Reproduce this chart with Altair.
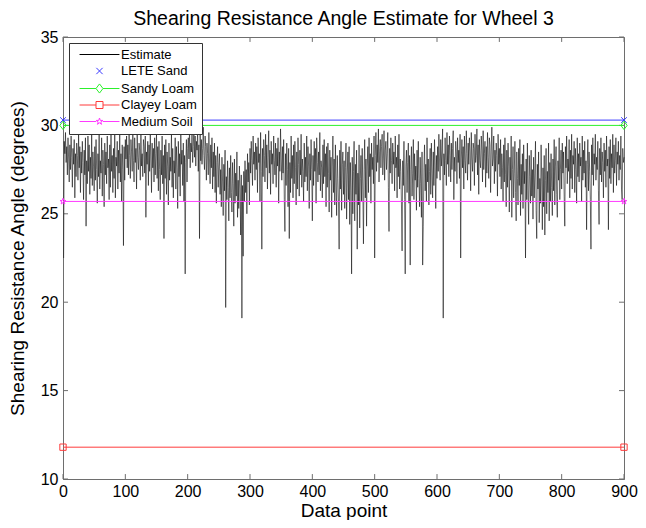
import altair as alt
import pandas as pd

FONT = "Liberation Sans"

# ---------------- data ----------------
series_names = ["Estimate", "LETE Sand", "Sandy Loam", "Clayey Loam", "Medium Soil"]
series_colors = ["#000000", "#3a3aff", "#2cf02c", "#ff3a3a", "#ff3aff"]
reference_names = ["LETE Sand", "Sandy Loam", "Clayey Loam", "Medium Soil"]
reference_values = [30.3, 30.0, 11.8, 25.7]
reference_x = [0, 900]
x_ticks = [0, 100, 200, 300, 400, 500, 600, 700, 800, 900]
y_ticks = [10, 15, 20, 25, 30, 35]

estimate = [
    22.5, 29.1, 28.4, 29.6, 27.9, 28.8, 27.2, 29.3, 28.1, 26.8, 28.9, 27.5, 29.4, 28.2, 26.5, 28.7, 27.8, 29.2, 25.9, 28.4,
    27.1, 29.0, 28.3, 26.9, 29.5, 27.6, 28.8, 26.2, 28.5, 27.3, 29.1, 27.9, 25.8, 28.6, 27.2, 29.3, 24.3, 28.0, 26.7, 29.4,
    27.4, 28.9, 26.1, 28.2, 27.0, 29.6, 26.6, 28.5, 27.7, 26.3,
    28.8, 26.9, 29.2, 27.5, 25.6, 28.4, 27.1, 29.7, 26.4, 28.0, 27.3, 29.3, 26.0, 28.6, 27.8, 25.4, 29.0, 27.2, 28.5, 26.7,
    29.4, 27.6, 28.1, 25.8, 28.9, 26.5, 29.8, 27.4, 28.3, 26.2, 28.7, 27.0, 29.5, 25.9, 28.2, 27.7, 29.1, 26.4, 28.6, 27.3,
    29.6, 26.8, 28.4, 25.7, 28.9, 27.5, 23.2, 28.8, 26.9, 29.2,
    28.1, 29.4, 27.6, 28.9, 27.2, 29.7, 28.3, 27.0, 29.2, 28.5, 27.4, 29.8, 28.0, 26.8, 29.3, 27.9, 28.7, 26.4, 29.5, 28.2,
    27.5, 29.0, 28.6, 26.9, 29.6, 27.7, 28.4, 27.1, 29.2, 28.8, 27.3, 29.4, 24.8, 28.5, 27.8, 29.1, 26.6, 28.9, 27.4, 29.7,
    28.1, 26.2, 29.0, 27.6, 28.7, 26.8, 29.3, 27.2, 28.4, 29.5,
    27.0, 28.8, 26.3, 29.1, 27.5, 25.8, 28.6, 27.2, 29.4, 26.7, 28.3, 23.6, 28.9, 27.0, 29.2, 26.1, 28.5, 27.7, 25.5, 29.0,
    26.9, 28.2, 27.4, 29.6, 26.5, 28.7, 25.9, 28.0, 27.3, 29.3, 26.4, 28.8, 27.6, 25.3, 29.1, 27.1, 28.4, 26.0, 29.5, 27.8,
    28.6, 26.6, 29.0, 25.7, 28.3, 21.6, 27.9, 29.2, 26.8, 28.7,
    29.3, 28.1, 29.8, 27.6, 29.0, 28.5, 29.6, 27.9, 28.8, 29.9, 28.2, 29.4, 27.7, 29.1, 28.6, 29.7, 27.4, 28.9, 23.6, 29.5,
    28.0, 29.2, 27.8, 28.7, 29.9, 28.3, 27.5, 29.4, 28.8, 26.9, 29.0, 28.4, 27.2, 29.6, 28.1, 26.7, 28.9, 27.6, 29.3, 26.4,
    28.5, 27.1, 29.0, 26.2, 28.3, 25.6, 27.9, 28.8, 26.5, 27.7,
    28.4, 26.1, 27.5, 25.4, 28.2, 26.8, 24.9, 27.8, 26.3, 28.6, 19.7, 27.1, 25.8, 28.0, 26.5, 24.6, 27.6, 25.9, 28.3, 26.2,
    25.1, 27.9, 26.7, 24.3, 28.1, 25.6, 27.3, 26.0, 28.5, 24.8, 26.9, 25.3, 27.7, 26.4, 23.8, 27.2, 19.1, 26.6, 22.6, 27.4,
    25.7, 28.0, 26.2, 27.5, 25.0, 28.4, 26.8, 27.9, 25.5, 28.7,
    27.3, 29.1, 28.0, 26.6, 29.4, 27.8, 28.5, 26.9, 29.0, 27.5, 28.8, 26.2, 29.3, 27.9, 28.4, 25.7, 29.6, 27.4, 23.0, 28.7,
    27.1, 29.2, 28.3, 26.8, 29.5, 27.6, 28.9, 26.4, 28.2, 29.7, 27.3, 28.6, 26.1, 29.1, 27.8, 28.4, 26.7, 29.4, 28.0, 27.2,
    29.0, 26.5, 28.7, 27.7, 29.3, 25.6, 28.5, 27.4, 29.8, 28.1,
    26.9, 28.8, 27.3, 29.2, 25.8, 24.0, 28.4, 26.6, 29.0, 27.5, 25.4, 28.7, 23.6, 27.9, 26.2, 29.4, 27.0, 28.3, 25.9, 28.9,
    26.7, 29.1, 27.6, 25.5, 28.5, 26.4, 29.3, 27.8, 26.0, 28.6, 27.2, 29.5, 26.5, 28.1, 27.4, 25.7, 29.0, 26.8, 28.2, 27.1,
    29.4, 26.3, 28.8, 27.7, 25.3, 28.4, 26.9, 29.2, 27.5, 24.6,
    28.3, 26.6, 29.1, 27.4, 28.7, 25.6, 29.3, 27.9, 26.8, 28.5, 27.2, 29.6, 26.3, 28.0, 27.6, 25.9, 28.9, 26.7, 29.2, 27.1,
    28.4, 25.4, 28.8, 26.5, 29.0, 27.3, 25.1, 28.6, 26.9, 28.2, 24.8, 27.7, 29.4, 26.2, 28.1, 25.5, 28.9, 26.8, 24.9, 28.3,
    27.0, 25.7, 23.0, 28.6, 26.4, 29.1, 25.2, 27.8, 28.5, 26.1,
    28.0, 25.3, 27.6, 29.0, 24.7, 27.2, 28.5, 25.8, 28.8, 24.4, 27.9, 26.3, 21.6, 28.2, 25.0, 27.4, 29.1, 24.6, 27.8, 26.1,
    28.6, 23.0, 27.3, 25.5, 28.9, 24.2, 27.0, 28.3, 25.7, 28.7, 26.4, 23.3, 27.5, 29.2, 25.9, 28.1, 24.3, 27.7, 28.8, 26.2,
    29.3, 27.1, 28.4, 25.6, 29.0, 27.5, 28.2, 26.7, 29.4, 22.5,
    28.3, 29.6, 27.4, 28.9, 27.9, 29.8, 26.8, 28.5, 29.2, 27.6, 28.8, 29.5, 27.2, 28.1, 29.7, 26.9, 28.6, 29.1, 27.5, 28.4,
    29.6, 26.5, 24.0, 28.7, 27.3, 29.3, 28.0, 26.7, 29.0, 27.8, 28.5, 26.3, 29.4, 27.6, 28.2, 25.9, 28.9, 27.1, 29.5, 26.4,
    28.1, 27.4, 25.5, 22.9, 28.0, 26.6, 29.1, 25.8, 21.6, 27.7,
    28.6, 26.2, 27.9, 29.0, 25.6, 28.3, 22.1, 27.5, 28.8, 26.0, 27.3, 29.2, 25.8, 28.4, 26.9, 27.7, 25.2, 28.6, 26.5, 29.1,
    27.0, 25.4, 28.2, 26.7, 24.8, 28.5, 22.1, 24.3, 27.6, 28.9, 26.3, 27.8, 25.7, 29.3, 26.8, 28.1, 25.5, 27.4, 28.7, 26.1,
    29.0, 27.3, 25.9, 28.5, 26.6, 29.2, 27.7, 25.3, 28.3, 27.0,
    28.8, 27.4, 29.5, 28.1, 26.9, 29.2, 27.7, 28.6, 29.8, 19.1, 28.4, 27.2, 29.3, 28.0, 26.6, 29.6, 27.8, 28.9, 27.1, 29.4,
    28.3, 26.8, 29.0, 27.5, 28.7, 29.7, 25.8, 28.2, 27.4, 29.1, 28.5, 26.7, 29.3, 27.9, 28.6, 27.0, 29.5, 22.5, 28.1, 29.2,
    27.6, 28.8, 26.4, 29.4, 28.0, 27.3, 29.7, 28.4, 26.9, 29.0,
    27.8, 29.3, 28.5, 26.3, 29.6, 28.1, 27.4, 29.0, 28.7, 26.6, 29.5, 27.9, 28.3, 29.8, 27.2, 28.9, 26.1, 29.2, 28.0, 27.6,
    29.4, 28.6, 26.8, 29.7, 27.5, 28.4, 29.1, 26.5, 28.8, 27.3, 29.6, 28.2, 27.0, 29.3, 28.9, 26.2, 28.5, 29.9, 27.7, 28.1,
    29.4, 26.7, 28.6, 27.4, 29.0, 28.3, 26.0, 29.5, 27.8, 28.7,
    27.1, 29.2, 26.4, 28.4, 27.6, 25.7, 28.9, 26.8, 29.3, 27.2, 25.4, 28.6, 26.5, 29.0, 27.7, 25.1, 28.2, 26.9, 29.4, 24.8,
    27.5, 28.8, 25.9, 27.3, 29.1, 26.2, 24.6, 28.5, 27.0, 25.5, 28.7, 26.6, 29.2, 24.9, 27.8, 26.1, 28.4, 25.3, 28.9, 26.7,
    27.4, 22.5, 28.1, 25.8, 29.0, 26.3, 24.4, 28.3, 27.1, 25.6,
    28.6, 26.0, 27.5, 24.7, 28.2, 25.9, 27.3, 29.1, 25.2, 23.6, 27.8, 26.4, 28.5, 24.5, 27.0, 25.6, 28.9, 26.8, 24.1, 27.6,
    25.4, 28.3, 23.8, 26.9, 28.7, 25.0, 27.4, 26.2, 29.0, 24.6, 27.9, 25.7, 28.4, 26.5, 24.9, 28.1, 26.3, 29.2, 25.5, 27.7,
    28.8, 26.1, 24.8, 28.0, 26.9, 29.3, 25.8, 27.5, 28.6, 26.4,
    29.0, 27.3, 28.5, 26.0, 24.3, 28.8, 27.6, 29.4, 26.7, 28.1, 27.4, 29.2, 25.9, 28.6, 27.0, 29.5, 26.4, 28.3, 27.8, 29.1,
    26.2, 28.7, 27.5, 25.6, 29.3, 27.1, 28.4, 26.8, 29.0, 27.7, 28.2, 25.7, 29.4, 26.9, 28.6, 27.3, 29.1, 26.5, 28.0, 24.1,
    27.8, 29.2, 26.3, 28.5, 27.4, 25.8, 23.0, 28.9, 27.2, 29.3,
    26.6, 28.4, 27.8, 29.5, 26.9, 28.2, 27.5, 29.1, 26.3, 24.4, 28.7, 27.2, 29.3, 26.8, 28.5, 27.9, 25.9, 29.0, 27.4, 28.6,
    26.5, 29.4, 27.7, 28.1, 24.1, 28.8, 27.0, 29.2, 26.7, 28.4, 27.6, 29.5, 26.2, 28.9, 27.3, 28.0, 29.3, 26.6, 28.5, 27.8,
    29.1, 26.9, 28.3, 27.5, 29.4, 26.4, 25.8, 28.7, 27.9, 28.2,
]

# legend symbols (line sample + marker), and plot markers (marker only)
STAR = "M0,-1L0.225,-0.309L0.951,-0.309L0.363,0.118L0.588,0.809L0,0.382L-0.588,0.809L-0.363,0.118L-0.951,-0.309L-0.225,-0.309Z"
CROSS = "M-0.9,-0.9L0.9,0.9M-0.9,0.9L0.9,-0.9"
DIAMOND = "M0,-1.3L1,0L0,1.3L-1,0Z"
SQUARE = "M-1,-1H1V1H-1Z"
marker_paths = [CROSS, DIAMOND, SQUARE, STAR]
legend_paths = [
    "M-5.7,0L5.7,0",
    CROSS,
    "M-5.7,0L-1,0M1,0L5.7,0" + DIAMOND,
    "M-5.7,0L-1,0M1,0L5.7,0" + SQUARE,
    "M-5.7,0L-0.95,0M0.95,0L5.7,0" + STAR,
]

# ---------------- tables ----------------
est_df = pd.DataFrame({"x": list(range(1, len(estimate) + 1)), "y": estimate})
ref_rows = []
for name, val in zip(reference_names, reference_values):
    for xv in reference_x:
        ref_rows.append({"series": name, "x": xv, "y": val})
ref_df = pd.DataFrame(ref_rows)
driver_df = pd.concat(
    [pd.DataFrame([{"series": "Estimate", "x": int(est_df.x[0]), "y": float(est_df.y[0])}]),
     ref_df[ref_df.x == reference_x[0]]],
    ignore_index=True,
)
tick_rows = []
for t in x_ticks:
    tick_rows.append({"x": t, "y": y_ticks[0], "x2": t, "y2": y_ticks[0] + 0.28})
    tick_rows.append({"x": t, "y": y_ticks[-1], "x2": t, "y2": y_ticks[-1] - 0.28})
for t in y_ticks:
    tick_rows.append({"x": x_ticks[0], "y": t, "x2": x_ticks[0] + 8, "y2": t})
    tick_rows.append({"x": x_ticks[-1], "y": t, "x2": x_ticks[-1] - 8, "y2": t})
tick_df = pd.DataFrame(tick_rows)

# ---------------- encodings ----------------
xscale = alt.Scale(domain=[x_ticks[0], x_ticks[-1]], nice=False, zero=False)
yscale = alt.Scale(domain=[y_ticks[0], y_ticks[-1]], nice=False, zero=False)
xaxis = alt.Axis(values=x_ticks, title="Data point", titleFontSize=19, labelPadding=4,
                 titlePadding=2, labelFlush=False)
yaxis = alt.Axis(values=y_ticks, title="Shearing Resistance Angle (degrees)", titleFontSize=19,
                 labelPadding=5, titlePadding=12.5)


def X():
    return alt.X("x:Q", scale=xscale, axis=xaxis)


def Y():
    return alt.Y("y:Q", scale=yscale, axis=yaxis)


color_scale = alt.Scale(domain=series_names, range=series_colors)

est_line = alt.Chart(est_df).mark_line(color="black", strokeWidth=0.55).encode(x=X(), y=Y())

ref_layers = []
for name, path, col in zip(reference_names, marker_paths, series_colors[1:]):
    base = alt.Chart(ref_df).transform_filter(alt.datum.series == name)
    ref_layers.append(base.mark_line(color=col, strokeWidth=1).encode(x=X(), y=Y()))
    ref_layers.append(
        base.mark_point(shape=path, size=40, filled=False, color=col, strokeWidth=1, opacity=1)
        .encode(x=X(), y=Y())
    )

driver = alt.Chart(driver_df).mark_point(filled=False, opacity=0, size=49).encode(
    x=X(), y=Y(),
    color=alt.Color("series:N", scale=color_scale, legend=alt.Legend(title=None)),
    shape=alt.Shape("series:N", scale=alt.Scale(domain=series_names, range=legend_paths),
                    legend=alt.Legend(title=None)),
)

ticks = alt.Chart(tick_df).mark_rule(color="#6e6e6e", strokeWidth=1).encode(
    x=X(), y=Y(), x2="x2:Q", y2="y2:Q"
)

chart = alt.layer(ticks, est_line, *ref_layers, driver).properties(
    width=630,
    height=512,
    title=alt.TitleParams(
        "Shearing Resistance Angle Estimate for Wheel 3",
        fontSize=19.5, font=FONT, fontWeight="normal", anchor="middle",
        offset=0, color="black",
    ),
    autosize=alt.AutoSizeParams(type="fit", contains="padding"),
    padding={"left": 0, "top": 0, "right": 0, "bottom": 0},
).configure_view(
    stroke="#6e6e6e", strokeWidth=1
).configure_axis(
    domainColor="#6e6e6e", ticks=False, grid=False,
    labelFont=FONT, labelFontSize=16, labelColor="black",
    titleFont=FONT, titleFontWeight="normal", titleColor="black",
).configure_legend(
    orient="top-left", offset=6, strokeColor="#333333", fillColor="white",
    padding=5, labelFont=FONT, labelFontSize=13, labelColor="black",
    symbolSize=49, symbolStrokeWidth=1, symbolOffset=19, labelOffset=15,
    rowPadding=2.5,
)

chart.save("out.html", embed_options={"renderer": "svg", "actions": False})
